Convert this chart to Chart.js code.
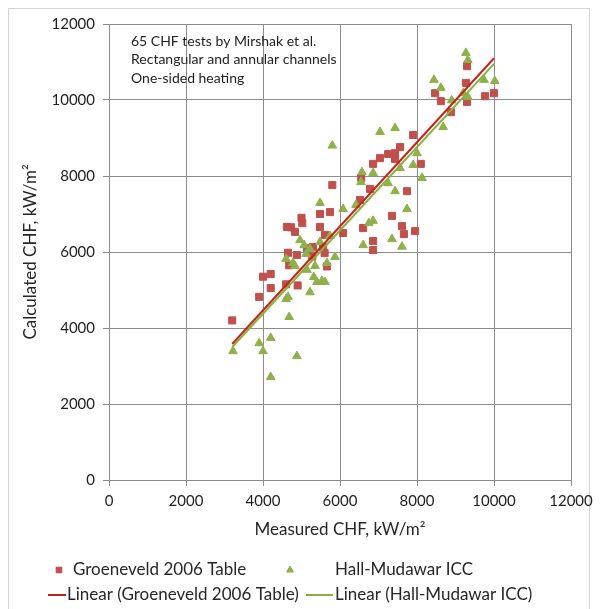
<!DOCTYPE html>
<html>
<head>
<meta charset="utf-8">
<script src="https://cdn.jsdelivr.net/npm/chart.js@4.4.0/dist/chart.umd.min.js"></script>
<style>
  html, body { margin: 0; padding: 0; background: #fff; }
  #wrap { position: relative; width: 600px; height: 609px; overflow: hidden; }
  #frame { position: absolute; left: 8px; top: 8px; width: 582px; height: 620px; border: 1px solid #d4d4d4; box-sizing: border-box; }
  canvas { position: absolute; left: 0; top: 0; }
</style>
</head>
<body>
<div id="wrap">
  <div id="frame"></div>
  <canvas id="chf" width="600" height="609"></canvas>
</div>
<script>
// -- data (kW/m2) --
const groenX = [3200, 3900, 4000, 4200, 4200, 4600, 4900, 4650, 4880, 4680, 5600, 5660, 5280, 5000, 5020, 4620, 4730, 4830, 5140, 5300,
  5480, 5740, 5480, 6080, 6600, 5610, 5560, 5800, 6550, 6780, 6520, 6860, 7040, 7250, 7430, 7430, 8100, 7740, 7350, 7610,
  7660, 7950, 6860, 6860, 7560, 7900, 8470, 8620, 9300, 9270, 9300, 9770, 10000, 8880];
const groenY = [4200, 4820, 5350, 5420, 5050, 5150, 5120, 5980, 5920, 5650, 5970, 5620, 5880, 6900, 6760, 6660, 6650, 6530, 6100, 6130,
  7000, 7050, 6660, 6500, 6630, 6450, 6130, 7760, 7950, 7660, 7370, 8320, 8470, 8580, 8600, 8450, 8320, 7600, 6950, 6680,
  6470, 6550, 6290, 6050, 8760, 9080, 10180, 9970, 10890, 10450, 9950, 10100, 10180, 9680];

const hallX = [3220, 3900, 4000, 4200, 4200, 4880, 4680, 4600, 4650, 5220, 5320, 5400, 5530, 5610, 5660, 5870, 5350, 4600, 4780, 4830,
  5120, 6600, 6570, 6545, 6860, 8000, 7900, 8130, 7430, 7250, 7740, 6415, 6080, 5480, 6860, 7350, 7610, 4960, 5070, 5740,
  7560, 9270, 9320, 8440, 8620, 9740, 10020, 8900, 9200, 9320, 8680, 7430, 7040, 5800, 5220, 5140, 5480, 6750];
const hallY = [3390, 3600, 3390, 3740, 2710, 3260, 4290, 4760, 4820, 4940, 5340, 5210, 5240, 5210, 5710, 5870, 5630, 5820, 5710, 5630,
  5950, 6180, 8100, 7840, 8080, 8600, 8290, 7950, 7600, 7810, 7130, 7240, 7130, 7290, 6820, 6340, 6140, 6310, 6180, 6420,
  8210, 11240, 11050, 10530, 10320, 10530, 10500, 9990, 10180, 10080, 9290, 9260, 9160, 8800, 6080, 5530, 6260, 6760];

// trend lines: end points
const trendX = [3200, 10000];
const groenTrendY = [3580, 11100];
const hallTrendY = [3500, 10950];

const tickLabels = ["0", "2000", "4000", "6000", "8000", "10000", "12000"];
const noteLines = ["65 CHF tests by Mirshak et al.", "Rectangular and annular channels", "One-sided heating"];

const toPoints = (xs, ys) => xs.map((x, i) => ({ x: x, y: ys[i] }));

// -- text box in the top left corner --
const notePlugin = {
  id: "note",
  afterDraw(chart) {
    const ctx = chart.ctx;
    ctx.save();
    ctx.font = "14px Lato";
    ctx.fillStyle = "#222";
    ctx.textBaseline = "middle";
    noteLines.forEach((line, i) => ctx.fillText(line, 131, 41 + i * 18.5));
    ctx.restore();
  },
};

// -- Excel-like legend in two columns --
const legendSlots = [
  { ds: 0, y: 570, sym: 59, text: 73 },
  { ds: 1, y: 570, sym: 290, text: 335 },
  { ds: 2, y: 595, sym: [48, 66], text: 67 },
  { ds: 3, y: 595, sym: [306, 333], text: 335 },
];
const legendPlugin = {
  id: "chfLegend",
  afterDraw(chart) {
    const ctx = chart.ctx;
    ctx.save();
    ctx.textBaseline = "middle";
    legendSlots.forEach((slot) => {
      const ds = chart.data.datasets[slot.ds];
      if (Array.isArray(slot.sym)) {
        ctx.strokeStyle = ds.borderColor;
        ctx.lineWidth = 2;
        ctx.beginPath();
        ctx.moveTo(slot.sym[0], slot.y);
        ctx.lineTo(slot.sym[1], slot.y);
        ctx.stroke();
      } else {
        ctx.fillStyle = ds.backgroundColor;
        ctx.strokeStyle = ds.borderColor;
        Chart.helpers.drawPoint(ctx, { pointStyle: ds.pointStyle, radius: 4, borderWidth: 1 }, slot.sym, slot.y);
      }
      ctx.font = "17px Lato";
      ctx.fillStyle = "#262626";
      ctx.fillText(ds.label, slot.text, slot.y);
    });
    ctx.restore();
  },
};

const axisFont = { family: "Lato", size: 15 };
const titleFont = { family: "Lato", size: 17 };
const gridColor = "#8c8c8c";

new Chart(document.getElementById("chf"), {
  type: "scatter",
  data: {
    datasets: [
      {
        label: "Groeneveld 2006 Table",
        data: toPoints(groenX, groenY),
        pointStyle: "rect",
        pointRadius: 5,
        backgroundColor: "#c0504d",
        borderColor: "#c0504d",
        borderWidth: 1,
        order: 4,
      },
      {
        label: "Hall-Mudawar ICC",
        data: toPoints(hallX, hallY),
        pointStyle: "triangle",
        pointRadius: 5,
        backgroundColor: "#8fb04a",
        borderColor: "#8fb04a",
        borderWidth: 1,
        order: 3,
      },
      {
        label: "Linear (Groeneveld 2006 Table)",
        type: "line",
        data: toPoints(trendX, groenTrendY),
        borderColor: "#cc1f1f",
        borderWidth: 2,
        pointRadius: 0,
        fill: false,
        order: 2,
      },
      {
        label: "Linear (Hall-Mudawar ICC)",
        type: "line",
        data: toPoints(trendX, hallTrendY),
        borderColor: "#86b23c",
        borderWidth: 2,
        pointRadius: 0,
        fill: false,
        order: 1,
      },
    ],
  },
  options: {
    responsive: false,
    animation: false,
    layout: { padding: { left: 10, right: 29, top: 24, bottom: 69 } },
    plugins: {
      legend: { display: false },
      tooltip: { enabled: false },
    },
    scales: {
      x: {
        type: "linear",
        min: 0,
        max: 12000,
        afterBuildTicks: (s) => { s.ticks = tickLabels.map((t) => ({ value: Number(t) })); },
        ticks: { padding: 6, color: "#1f1f1f", font: axisFont, maxRotation: 0, callback: (v) => String(v) },
        grid: { color: gridColor, tickLength: 6 },
        border: { color: gridColor },
        title: { display: true, text: "Measured CHF, kW/m²", color: "#262626", font: titleFont, padding: { top: 0, bottom: 0 } },
        afterFit: (s) => { s.height = 60; },
      },
      y: {
        type: "linear",
        min: 0,
        max: 12000,
        afterBuildTicks: (s) => { s.ticks = tickLabels.map((t) => ({ value: Number(t) })); },
        ticks: { padding: 8, color: "#1f1f1f", font: axisFont, callback: (v) => String(v) },
        grid: { color: gridColor, tickLength: 6 },
        border: { color: gridColor },
        title: { display: true, text: "Calculated CHF, kW/m²", color: "#262626", font: titleFont, padding: { top: 10, bottom: 0 } },
        afterFit: (s) => { s.width = 99; },
      },
    },
  },
  plugins: [notePlugin, legendPlugin],
});
</script>
</body>
</html>
